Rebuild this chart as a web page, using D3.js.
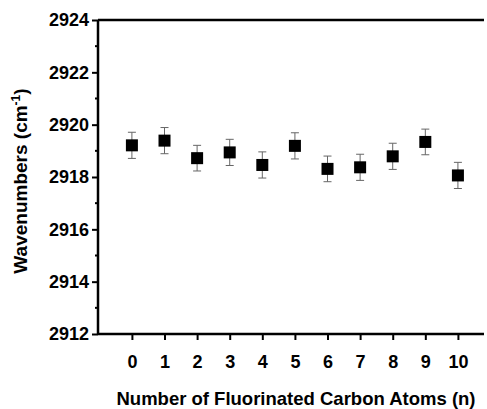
<!DOCTYPE html>
<html>
<head>
<meta charset="utf-8">
<script src="https://cdn.jsdelivr.net/npm/d3@7"></script>
<style>
  body { margin: 0; background: #fff; }
  text { font-family: "Liberation Sans", Arial, sans-serif; font-weight: bold; }
</style>
</head>
<body>
<svg id="chart" width="487" height="409"></svg>
<script>
// carbon atom counts, mean wavenumbers and error (+/-)
const nAtoms = [0, 1, 2, 3, 4, 5, 6, 7, 8, 9, 10];
const wavenumbers = [2919.21, 2919.39, 2918.72, 2918.94, 2918.46, 2919.19, 2918.31, 2918.37, 2918.79, 2919.34, 2918.06];
const errors = [0.5, 0.5, 0.49, 0.5, 0.5, 0.5, 0.49, 0.5, 0.5, 0.49, 0.5];
const yTicks = [2912, 2914, 2916, 2918, 2920, 2922, 2924];
const yMinorTicks = [2913, 2915, 2917, 2919, 2921, 2923];

const svg = d3.select("#chart");
const mLeft = 98, mRight = 484, mTop = 20, mBottom = 334;

const x = d3.scaleLinear().domain([-1.04, 10.8]).range([mLeft, mRight]);
const y = d3.scaleLinear().domain([2912, 2924]).range([mBottom, mTop]);

// y axis
const yAxis = svg.append("g")
    .attr("transform", `translate(${mLeft},0)`)
    .call(d3.axisLeft(y).tickValues(yTicks).tickFormat(d3.format("d")).tickSize(6).tickPadding(3));
yAxis.select(".domain").attr("stroke-width", 2.5).attr("d", `M0,${mTop}V${mBottom}`);
yAxis.selectAll(".tick line").attr("stroke-width", 2);
yAxis.selectAll(".tick text").style("font-size", "18px").attr("fill", "#000");

svg.append("g")
    .attr("transform", `translate(${mLeft},0)`)
    .selectAll("line")
    .data(yMinorTicks)
    .join("line")
    .attr("x1", -3).attr("x2", 0)
    .attr("y1", d => y(d)).attr("y2", d => y(d))
    .attr("stroke", "#000").attr("stroke-width", 2);

// x axis
const xAxis = svg.append("g")
    .attr("transform", `translate(0,${mBottom})`)
    .call(d3.axisBottom(x).tickValues(nAtoms).tickFormat(d3.format("d")).tickSize(6).tickPadding(15));
xAxis.select(".domain").attr("stroke-width", 2.5).attr("d", `M${mLeft},0H${mRight}`);
xAxis.selectAll(".tick line").attr("stroke-width", 2);
xAxis.selectAll(".tick text").style("font-size", "18px").attr("fill", "#000");

// top frame line
svg.append("line")
    .attr("x1", mLeft).attr("x2", mRight)
    .attr("y1", mTop).attr("y2", mTop)
    .attr("stroke", "#000").attr("stroke-width", 2.5);

// error bars
const eb = svg.append("g").attr("stroke", "#666").attr("stroke-width", 1);
nAtoms.forEach((n, i) => {
    const cx = x(n);
    const y1 = y(wavenumbers[i] + errors[i]);
    const y2 = y(wavenumbers[i] - errors[i]);
    eb.append("line").attr("x1", cx).attr("x2", cx).attr("y1", y1).attr("y2", y2);
    eb.append("line").attr("x1", cx - 4).attr("x2", cx + 4).attr("y1", y1).attr("y2", y1);
    eb.append("line").attr("x1", cx - 4).attr("x2", cx + 4).attr("y1", y2).attr("y2", y2);
});

// markers
const sz = 12;
svg.append("g")
    .selectAll("rect")
    .data(nAtoms)
    .join("rect")
    .attr("x", d => x(d) - sz / 2)
    .attr("y", (d, i) => y(wavenumbers[i]) - sz / 2)
    .attr("width", sz).attr("height", sz)
    .attr("fill", "#000");

// axis titles
svg.append("text")
    .attr("x", 296)
    .attr("y", 405)
    .attr("text-anchor", "middle")
    .style("font-size", "18.5px")
    .text("Number of Fluorinated Carbon Atoms (n)");

const yt = svg.append("text")
    .attr("transform", `translate(27,181) rotate(-90)`)
    .attr("text-anchor", "middle")
    .style("font-size", "19px");
yt.append("tspan").text("Wavenumbers (cm");
yt.append("tspan").attr("dy", -7).style("font-size", "12px").text("-1");
yt.append("tspan").attr("dy", 7).text(")");
</script>
</body>
</html>
